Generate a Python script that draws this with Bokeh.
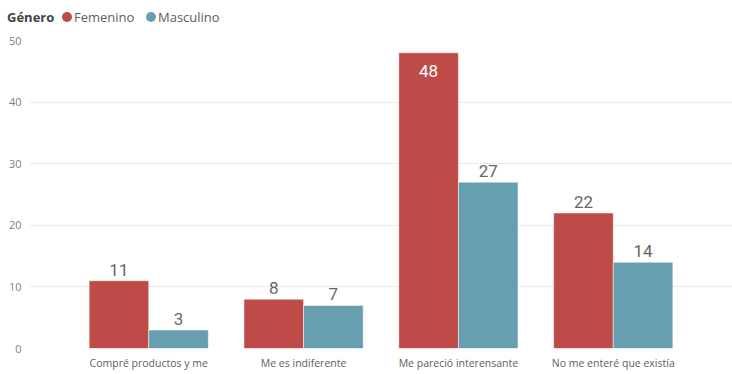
from bokeh.plotting import figure
from bokeh.layouts import column
from bokeh.models import ColumnDataSource, FactorRange, Range1d, LabelSet, Div
from bokeh.transform import dodge
from bokeh.core.properties import value
from bokeh.embed import file_html
from bokeh.resources import INLINE

# Survey responses by gender
categories = ["Compré productos y me", "Me es indiferente",
              "Me pareció interensante", "No me enteré que existía"]
femenino = [11, 8, 48, 22]
masculino = [3, 7, 27, 14]
y_ticks = [0, 10, 20, 30, 40, 50]
series_names = ["Femenino", "Masculino"]
legend_title = "Género"

RED = "#BE4B48"
TEAL = "#679FB1"
BAR_W = 0.385
OFFSET = BAR_W / 2
W = 732
LEG_H = 32
PLOT_H = 374 - LEG_H

# ---- legend strip (HTML) -------------------------------------------------
def _text(s, left, bold=False, color="#605E5C"):
    weight = "bold" if bold else "normal"
    return (f'<span style="position:absolute;left:{left}px;top:7px;line-height:20px;'
            f'font-weight:{weight};color:{color};white-space:nowrap">{s}</span>')

def _dot(center_x, color):
    return (f'<span style="position:absolute;left:{center_x - 5}px;top:12px;width:10px;'
            f'height:10px;border-radius:50%;background:{color}"></span>')

legend_html = (
    '<div style="position:relative;width:732px;height:32px;'
    'font-family:\'Open Sans\';font-size:13px">'
    + _text(legend_title, 7, bold=True, color="#444444")
    + _dot(67, RED) + _text(series_names[0], 74)
    + _dot(151, TEAL) + _text(series_names[1], 158)
    + '</div>'
)
leg = Div(text=legend_html, width=W, height=LEG_H, margin=(0, 0, 0, 0))

# ---- bar chart ----------------------------------------------------------
src = ColumnDataSource(data=dict(cat=categories, fem=femenino, mas=masculino))

x_range = FactorRange(factors=categories, range_padding=0.27,
                      range_padding_units="absolute")
p = figure(width=W, height=PLOT_H, x_range=x_range, y_range=Range1d(0, 50),
           output_backend="svg", toolbar_location=None,
           min_border_left=29, min_border_right=0,
           min_border_top=8, min_border_bottom=26)
p.outline_line_color = None
p.background_fill_color = "white"
p.border_fill_color = "white"

p.vbar(x=dodge("cat", -OFFSET, range=x_range), top="fem", width=BAR_W,
       source=src, fill_color=RED, line_color="white", line_alpha=0.5)
p.vbar(x=dodge("cat", OFFSET, range=x_range), top="mas", width=BAR_W,
       source=src, fill_color=TEAL, line_color="white", line_alpha=0.5)

# value labels: the tall bar carries its label inside, the others sit above
inside = [v >= 40 for v in femenino]
fem_out = ColumnDataSource(data=dict(
    cat=[c for c, i in zip(categories, inside) if not i],
    v=[v for v, i in zip(femenino, inside) if not i],
    t=[str(v) for v, i in zip(femenino, inside) if not i]))
fem_in = ColumnDataSource(data=dict(
    cat=[c for c, i in zip(categories, inside) if i],
    v=[v for v, i in zip(femenino, inside) if i],
    t=[str(v) for v, i in zip(femenino, inside) if i]))
mas_src = ColumnDataSource(data=dict(cat=categories, v=masculino,
                                     t=[str(v) for v in masculino]))

label_font = value("Roboto")
for s, off, color, yoff, base in [
        (fem_out, -OFFSET, "#666666", 5, "bottom"),
        (fem_in, -OFFSET, "white", -12, "top"),
        (mas_src, OFFSET, "#666666", 5, "bottom")]:
    p.add_layout(LabelSet(x=dodge("cat", off, range=x_range), y="v", text="t",
                          source=s, y_offset=yoff, text_align="center",
                          text_baseline=base, text_font=label_font,
                          text_font_size="17px", text_color=color))

# axes
for ax in (p.xaxis, p.yaxis):
    ax.axis_line_color = None
    ax.major_tick_line_color = None
    ax.minor_tick_line_color = None
    ax.major_tick_out = 0
    ax.minor_tick_out = 0
    ax.major_label_text_font = "Open Sans"

p.yaxis.ticker = y_ticks
p.yaxis.major_label_text_color = "#808080"
p.yaxis.major_label_text_font_size = "11px"
p.yaxis.major_label_standoff = 8

p.xaxis.major_label_text_color = "#605E5C"
p.xaxis.major_label_text_font_size = "10.5px"
p.xaxis.major_label_standoff = 7

p.xgrid.grid_line_color = None
p.ygrid.grid_line_color = "#EAEAEA"
p.ygrid.grid_line_width = 1

layout = column(leg, p, spacing=0)
open("out.html", "w").write(file_html(layout, INLINE))
